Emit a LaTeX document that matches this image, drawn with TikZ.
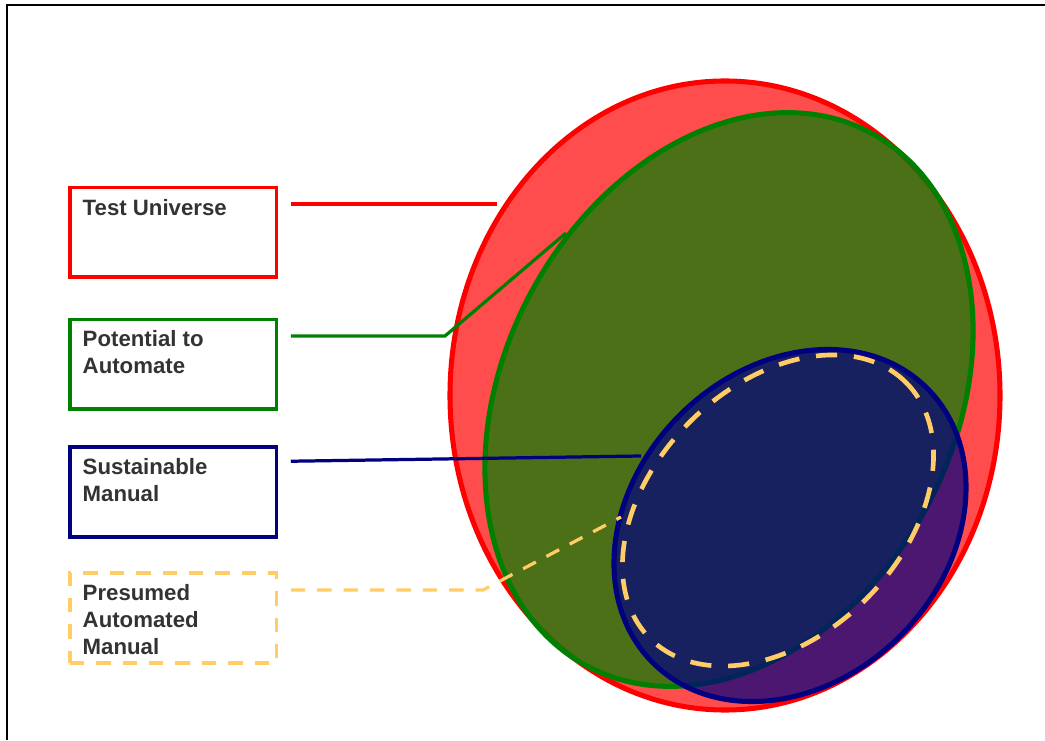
\documentclass[tikz,border=0pt]{standalone}
\usepackage{fontspec}
\setmainfont{Liberation Sans}
\usetikzlibrary{shapes.geometric}
\definecolor{univred}{RGB}{255,0,0}
\definecolor{potgreen}{RGB}{0,128,0}
\definecolor{susnavy}{RGB}{0,0,128}
\definecolor{presyellow}{RGB}{255,204,102}
\definecolor{txtgray}{RGB}{51,51,51}

\begin{document}
\begin{tikzpicture}[
  box/.style={draw, rectangle, line width=2.5pt, minimum width=5.17cm, minimum height=2.24cm, inner sep=0pt},
  txt/.style={anchor=north west, inner sep=0pt, align=left, text=txtgray, font=\fontsize{15.8pt}{19.2pt}\selectfont\bfseries},
  set/.style={draw=#1, fill=#1, fill opacity=0.7, ellipse, line width=3.6pt, inner sep=0pt},
  dsh/.style={dash pattern=on 0.36cm off 0.3cm},
  link/.style={line width=2.3pt}
]

\useasboundingbox (0,0) rectangle (26.125,18.5);
\draw[line width=1.8pt] (0.175,0) -- (0.175,18.38) -- (26.125,18.38);

\node[set=univred, minimum width=13.75cm, minimum height=15.725cm] (EU) at (18.125,8.6125) {};%
\node[set=potgreen, minimum width=11.25cm, minimum height=15.1cm, rotate=-28] (EP) at (18.225,8.5125) {};%
\node[set=susnavy, minimum width=9.7cm, minimum height=7.8cm, rotate=45] (ES) at (19.75,5.3625) {};%
\node[draw=presyellow, ellipse, line width=3.3pt, inner sep=0pt, dash pattern=on 0.53cm off 0.42cm,
  minimum width=9.05cm, minimum height=6.25cm, rotate=45] (EM) at (19.45,5.7375) {};%

\node[box, draw=univred] (U) at (4.33,12.69) {};%
\node[txt] (Ut) at ([shift={(0.36,-0.32)}]U.north west) {Test Universe};%

\node[box, draw=potgreen] (P) at (4.33,9.395) {};%
\node[txt] (Pt) at ([shift={(0.36,-0.32)}]P.north west) {Potential to\\Automate};%

\node[box, draw=susnavy] (S) at (4.33,6.2) {};%
\node[txt] (St) at ([shift={(0.36,-0.32)}]S.north west) {Sustainable\\Manual};%

\node[box, draw=presyellow, dsh] (M) at (4.33,3.05) {};%
\node[txt] (Mt) at ([shift={(0.36,-0.32)}]M.north west) {Presumed\\Automated\\Manual};%

\coordinate (Ua) at (12.425,13.4);
\coordinate (Pb) at (11.125,10.1);
\coordinate (Pa) at (14.15,12.675);
\coordinate (Sa) at (16.025,7.1);
\coordinate (Mb) at (12.075,3.75);
\coordinate (Ma) at (15.525,5.575);

\draw[link, univred] ([xshift=0.31cm]U.east |- Ua) -- (Ua);
\draw[link, potgreen] ([xshift=0.31cm]P.east |- Pb) -- (Pb) -- (Pa);
\draw[link, susnavy] ([shift={(0.31,-0.395)}]S.north east) -- (Sa);
\draw[link, presyellow, dsh] ([xshift=0.31cm]M.east |- Mb) -- (Mb) -- (Ma);

\end{tikzpicture}
\end{document}
